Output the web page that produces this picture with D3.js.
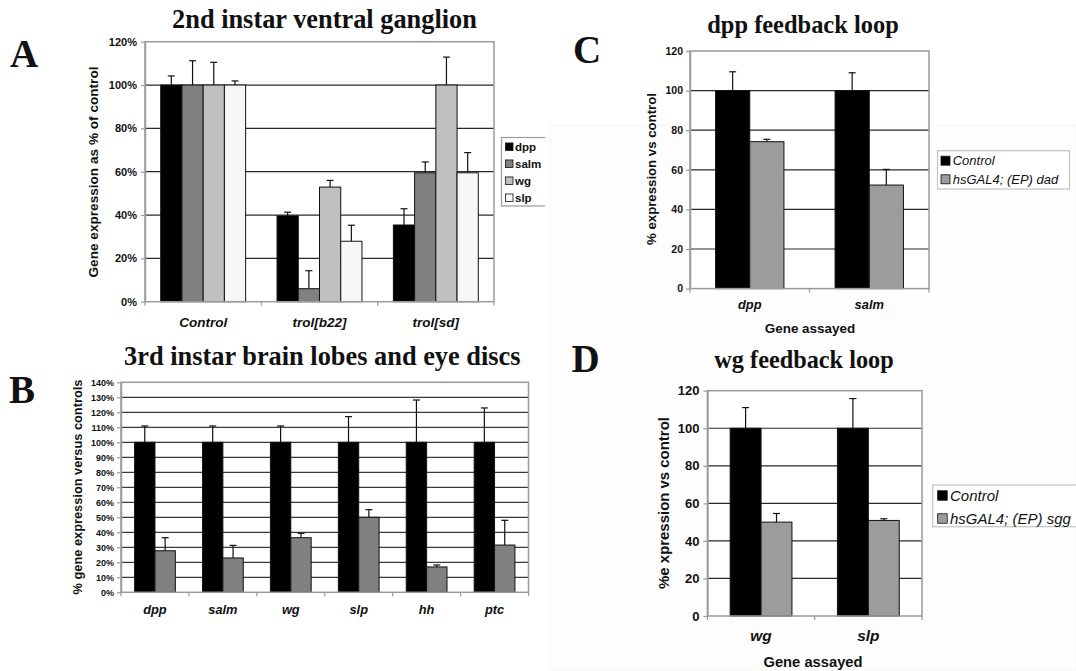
<!DOCTYPE html>
<html>
<head>
<meta charset="utf-8">
<script src="https://cdn.jsdelivr.net/npm/d3@7"></script>
<style>
  html, body { margin: 0; padding: 0; background: #fff; }
  svg { display: block; }
</style>
</head>
<body>
<svg id="fig" width="1076" height="671"></svg>
<script>
// ---- Panel A: 2nd instar ventral ganglion ----
const groupsA = ["Control", "trol[b22]", "trol[sd]"];
const seriesA = ["dpp", "salm", "wg", "slp"];
const dppA = [100, 39.6, 35.4];
const salmA = [100, 6, 59.5];
const wgA = [100, 52.9, 100];
const slpA = [100, 27.9, 59.5];
const dppErrA = [4.2, 1.7, 7.5];
const salmErrA = [11.2, 8.3, 5.0];
const wgErrA = [10.5, 3.1, 12.9];
const slpErrA = [1.9, 7.4, 9.3];
const ticksA = [0, 20, 40, 60, 80, 100, 120];

// ---- Panel B: 3rd instar brain lobes and eye discs ----
const genesB = ["dpp", "salm", "wg", "slp", "hh", "ptc"];
const controlB = [100, 100, 100, 100, 100, 100];
const controlErrB = [10.9, 10.9, 10.9, 17.1, 28.2, 22.9];
const treatedB = [27.7, 22.9, 36.4, 50, 16.9, 31.5];
const treatedErrB = [8.7, 8.4, 2.9, 5.1, 1.3, 16.5];
const ticksB = [0, 10, 20, 30, 40, 50, 60, 70, 80, 90, 100, 110, 120, 130, 140];

// ---- Panel C: dpp feedback loop ----
const genesC = ["dpp", "salm"];
const seriesC = ["Control", "hsGAL4; (EP) dad"];
const controlC = [100, 100];
const controlErrC = [9.5, 9.0];
const dadC = [74.2, 52.3];
const dadErrC = [1.2, 7.9];
const ticksC = [0, 20, 40, 60, 80, 100, 120];

// ---- Panel D: wg feedback loop ----
const genesD = ["wg", "slp"];
const seriesD = ["Control", "hsGAL4; (EP) sgg"];
const controlD = [100, 100];
const controlErrD = [11.0, 15.8];
const sggD = [50, 50.9];
const sggErrD = [4.6, 0.9];
const ticksD = [0, 20, 40, 60, 80, 100, 120];

const SANS = "'Liberation Sans', Arial, sans-serif";
const SERIF = "'Liberation Serif', 'Times New Roman', serif";

const svg = d3.select("#fig");

// scale a text element's font so its run length equals the given width
function fitText(sel, width) {
  const base = parseFloat(sel.attr("font-size"));
  const len = sel.node().getComputedTextLength();
  if (len > 0) sel.attr("font-size", (base * width / len).toFixed(2));
  return sel;
}

// faint scanned-image backdrop behind the right-hand panels
svg.append("rect").attr("x", 550).attr("y", 125).attr("width", 526).attr("height", 546)
  .attr("fill", "#fdfdfd").attr("stroke", "#f5f5f5");

function drawPanel(p) {
  const g = svg.append("g");
  if (p.clip) {
    const id = "clip" + p.letter;
    svg.append("clipPath").attr("id", id).append("rect")
      .attr("x", 0).attr("y", p.clip.y).attr("width", p.clip.x).attr("height", p.clip.h);
  }
  const y = d3.scaleLinear().domain([0, p.max]).range([p.yBottom, p.yTop]);
  const x = d3.scaleBand().domain(p.groups).range([p.x0, p.x1]).padding(0);
  const bw = x.bandwidth();
  const inner = d3.scaleBand().domain(p.series.map(s => s.name))
    .range([bw * (1 - p.groupFrac) / 2, bw * (1 + p.groupFrac) / 2]).padding(0);

  // plot background
  g.append("rect").attr("x", p.x0).attr("y", p.yTop)
    .attr("width", p.x1 - p.x0).attr("height", p.yBottom - p.yTop).attr("fill", "#fff");

  // horizontal gridlines
  g.append("g").selectAll("line").data(p.ticks.filter(t => t > 0 && t < p.max)).join("line")
    .attr("x1", p.x0).attr("x2", p.x1)
    .attr("y1", d => y(d)).attr("y2", d => y(d))
    .attr("stroke", p.gridColor).attr("stroke-width", 1.2);

  // bars
  p.series.forEach(s => {
    const sg = g.append("g");
    sg.selectAll("rect").data(p.groups.map((grp, i) => ({ grp, v: s.values[i], e: s.errs[i] })))
      .join("rect")
      .attr("x", d => x(d.grp) + inner(s.name))
      .attr("y", d => y(d.v))
      .attr("width", inner.bandwidth())
      .attr("height", d => y(0) - y(d.v))
      .attr("fill", s.fill).attr("stroke", "#111").attr("stroke-width", 1);
    // upper error bars
    const eg = g.append("g").attr("stroke", "#111").attr("stroke-width", 1.2);
    p.groups.forEach((grp, i) => {
      const cx = x(grp) + inner(s.name) + inner.bandwidth() / 2;
      const yt = y(s.values[i] + s.errs[i]);
      eg.append("line").attr("x1", cx).attr("x2", cx).attr("y1", y(s.values[i])).attr("y2", yt);
      eg.append("line").attr("x1", cx - 3.5).attr("x2", cx + 3.5).attr("y1", yt).attr("y2", yt);
    });
  });

  // plot frame
  g.append("rect").attr("x", p.x0).attr("y", p.yTop)
    .attr("width", p.x1 - p.x0).attr("height", p.yBottom - p.yTop)
    .attr("fill", "none").attr("stroke", "#9a9a9a").attr("stroke-width", 1.5);

  // y axis with labels
  const ya = d3.axisLeft(y).tickValues(p.ticks).tickSizeInner(4).tickSizeOuter(0)
    .tickPadding(p.tickPad).tickFormat(p.tickFmt);
  const yg = g.append("g").attr("transform", `translate(${p.x0},0)`).call(ya);
  yg.select(".domain").attr("stroke", "#9a9a9a").attr("stroke-width", 1.5);
  yg.selectAll(".tick line").attr("stroke", "#9a9a9a").attr("stroke-width", 1.2);
  yg.selectAll("text").attr("font-family", SANS).attr("font-weight", "bold")
    .attr("font-size", p.tickFont).attr("fill", "#111");

  // x axis boundary ticks
  const bounds = p.groups.map(d => x(d)).concat([p.x1]);
  g.append("g").selectAll("line").data(bounds).join("line")
    .attr("x1", d => d).attr("x2", d => d).attr("y1", p.yBottom).attr("y2", p.yBottom + 4)
    .attr("stroke", "#9a9a9a").attr("stroke-width", 1.2);

  // category labels
  g.append("g").selectAll("text").data(p.groups).join("text")
    .attr("x", d => x(d) + bw / 2).attr("y", p.catY)
    .attr("text-anchor", "middle").attr("font-family", SANS)
    .attr("font-weight", "bold").attr("font-style", "italic")
    .attr("font-size", p.catFont).attr("fill", "#111").text(d => d);

  // y-axis title
  const yt = g.append("text").attr("transform", `translate(${p.yTitleX},${p.yTitleY}) rotate(-90)`)
    .attr("text-anchor", "middle").attr("dominant-baseline", "central")
    .attr("font-family", SANS).attr("font-weight", "bold").attr("font-size", 12)
    .attr("fill", "#111").text(p.yTitle);
  fitText(yt, p.yTitleLen);

  // x-axis title
  if (p.xTitle) {
    const xt = g.append("text").attr("x", p.xTitleX).attr("y", p.xTitleY)
      .attr("text-anchor", "middle").attr("font-family", SANS).attr("font-weight", "bold")
      .attr("font-size", 13).attr("fill", "#111").text(p.xTitle);
    fitText(xt, p.xTitleLen);
  }

  // chart title
  const tt = svg.append("text").attr("x", p.titleX).attr("y", p.titleY).attr("text-anchor", "middle")
    .attr("font-family", SERIF).attr("font-weight", "bold").attr("font-size", 24)
    .attr("fill", "#111").text(p.title);
  fitText(tt, p.titleLen);

  // panel letter
  svg.append("text").attr("x", p.letterX).attr("y", p.letterY)
    .attr("font-family", SERIF).attr("font-weight", "bold").attr("font-size", 39)
    .attr("fill", "#111").text(p.letter);

  // legend
  if (p.legend) {
    const L = p.legend;
    const lg = svg.append("g");
    if (p.clip) lg.attr("clip-path", `url(#clip${p.letter})`);
    lg.append("rect").attr("x", L.x).attr("y", L.y).attr("width", L.w).attr("height", L.h)
      .attr("fill", "#fff").attr("stroke", L.stroke).attr("stroke-width", 1.2);
    p.series.forEach((s, i) => {
      const cy = L.firstY + i * L.step;
      lg.append("rect").attr("x", L.sx).attr("y", cy - L.sq / 2).attr("width", L.sq).attr("height", L.sq)
        .attr("fill", s.fill).attr("stroke", "#111").attr("stroke-width", 0.8);
      lg.append("text").attr("x", L.tx).attr("y", cy).attr("dominant-baseline", "central")
        .attr("font-family", SANS).attr("font-size", L.font)
        .attr("font-weight", L.weight).attr("font-style", L.style)
        .attr("fill", "#111").text(s.name);
    });
  }
}

drawPanel({
  letter: "A", letterX: 10, letterY: 67,
  title: "2nd instar ventral ganglion", titleX: 324.5, titleY: 28, titleLen: 305,
  x0: 145, x1: 494, yBottom: 301.7, yTop: 41.7, max: 120, ticks: ticksA,
  tickFmt: d => d + "%", tickFont: 11, tickPad: 4,
  groups: groupsA, groupFrac: 0.73, gridColor: "#2a2a2a",
  series: [
    { name: seriesA[0], values: dppA, errs: dppErrA, fill: "#000" },
    { name: seriesA[1], values: salmA, errs: salmErrA, fill: "#808080" },
    { name: seriesA[2], values: wgA, errs: wgErrA, fill: "#c0c0c0" },
    { name: seriesA[3], values: slpA, errs: slpErrA, fill: "#f7f7f7" }
  ],
  catY: 327, catFont: 13.5,
  yTitle: "Gene expression as % of control", yTitleX: 93, yTitleY: 172, yTitleLen: 211,
  clip: { x: 545, y: 0, h: 671 },
  legend: { x: 501.5, y: 137.5, w: 60, h: 68.5, stroke: "#9a9a9a", sx: 505.5, sq: 7.5,
            tx: 515, firstY: 146.7, step: 17, font: 11.5, weight: "bold", style: "normal" }
});

drawPanel({
  letter: "B", letterX: 9, letterY: 403,
  title: "3rd instar brain lobes and eye discs", titleX: 322.3, titleY: 365, titleLen: 396.6,
  x0: 121, x1: 528.5, yBottom: 592.3, yTop: 382.3, max: 140, ticks: ticksB,
  tickFmt: d => d + "%", tickFont: 9, tickPad: 3,
  groups: genesB, groupFrac: 0.6, gridColor: "#3a3a3a",
  series: [
    { name: "control", values: controlB, errs: controlErrB, fill: "#000" },
    { name: "treated", values: treatedB, errs: treatedErrB, fill: "#808080" }
  ],
  catY: 614, catFont: 12.8,
  yTitle: "% gene expression versus controls", yTitleX: 77.5, yTitleY: 487, yTitleLen: 215
});

drawPanel({
  letter: "C", letterX: 573, letterY: 63,
  title: "dpp feedback loop", titleX: 803, titleY: 33, titleLen: 191.5,
  x0: 690, x1: 929, yBottom: 288.6, yTop: 51, max: 120, ticks: ticksC,
  tickFmt: d => d, tickFont: 10.5, tickPad: 3,
  groups: genesC, groupFrac: 0.572, gridColor: "#2a2a2a",
  series: [
    { name: seriesC[0], values: controlC, errs: controlErrC, fill: "#000" },
    { name: seriesC[1], values: dadC, errs: dadErrC, fill: "#9c9c9c" }
  ],
  catY: 309, catFont: 12.9,
  yTitle: "% expression vs control", yTitleX: 651, yTitleY: 169, yTitleLen: 152,
  xTitle: "Gene assayed", xTitleX: 810, xTitleY: 333, xTitleLen: 90.6,
  legend: { x: 937.5, y: 150.7, w: 132, h: 38.3, stroke: "#c4c4c4", sx: 941, sq: 9,
            tx: 952.7, firstY: 160.7, step: 18.6, font: 13, weight: "normal", style: "italic" }
});

drawPanel({
  letter: "D", letterX: 571.5, letterY: 372,
  title: "wg feedback loop", titleX: 804, titleY: 368, titleLen: 179.4,
  x0: 707.4, x1: 922, yBottom: 616, yTop: 390.7, max: 120, ticks: ticksD,
  tickFmt: d => d, tickFont: 13, tickPad: 4,
  groups: genesD, groupFrac: 0.576, gridColor: "#2a2a2a",
  series: [
    { name: seriesD[0], values: controlD, errs: controlErrD, fill: "#000" },
    { name: seriesD[1], values: sggD, errs: sggErrD, fill: "#9c9c9c" }
  ],
  catY: 641, catFont: 15.4,
  yTitle: "%e xpression vs control", yTitleX: 663, yTitleY: 503, yTitleLen: 172,
  xTitle: "Gene assayed", xTitleX: 813, xTitleY: 667, xTitleLen: 99,
  legend: { x: 932.7, y: 485, w: 160, h: 41.7, stroke: "#c4c4c4", sx: 937.7, sq: 9.5,
            tx: 950, firstY: 495.5, step: 23, font: 15, weight: "normal", style: "italic" }
});
</script>
</body>
</html>
